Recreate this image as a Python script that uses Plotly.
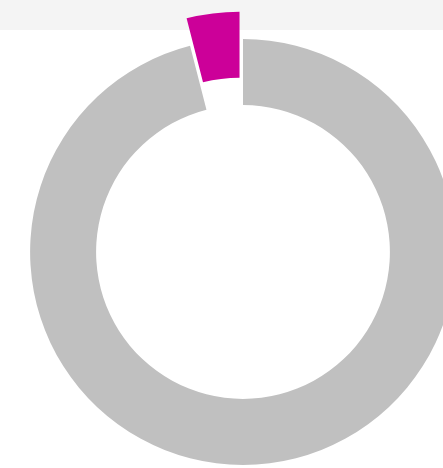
import plotly.graph_objects as go

labels = ["Highlighted", "Remainder"]
values = [4, 96]
colors = ["#CC0099", "#C0C0C0"]
pulls = [0.13, 0]

W, H = 486, 504

# first slice ends exactly at 12 o'clock, on its left side
start_angle = -360 * values[0] / sum(values)

fig = go.Figure(go.Pie(
    labels=labels,
    values=values,
    hole=0.69,
    sort=False,
    direction="clockwise",
    rotation=start_angle,
    pull=pulls,
    domain=dict(x=[0.005, 0.995], y=[0, 1]),
    marker=dict(colors=colors, line=dict(width=0)),
    textinfo="none",
    hoverinfo="label+percent",
    showlegend=False,
))

fig.update_layout(
    width=W, height=H,
    margin=dict(l=0, r=0, t=0, b=0),
    paper_bgcolor="white",
    plot_bgcolor="white",
    shapes=[dict(type="rect", xref="paper", yref="paper",
                 x0=0, x1=1, y0=1 - 30 / H, y1=1,
                 fillcolor="#F4F4F4", line=dict(width=0), layer="below")],
)

fig.write_html(
    "out.html",
    config={"displayModeBar": False},
    post_script="document.body.style.margin='0';document.body.style.overflow='hidden';document.documentElement.style.overflow='hidden';",
)
